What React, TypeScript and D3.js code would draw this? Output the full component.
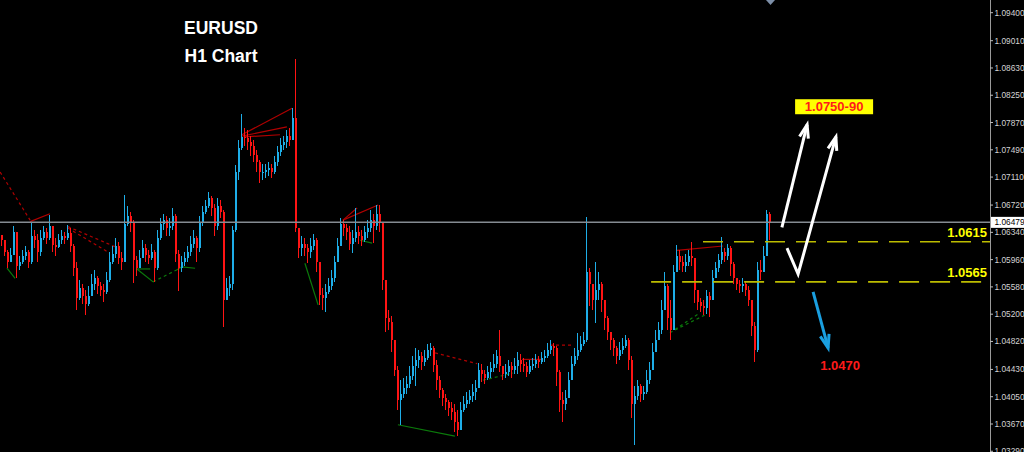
import React from "react";
import * as d3 from "d3";

// ---------- data ----------
const symbolTitle = "EURUSD";
const timeframeTitle = "H1 Chart";
const firstOpen = 1.063;
// hourly bars: [high, low, close]; open = previous close
const bars: [number, number, number][] = [
  [1.0630, 1.0615, 1.0623], [1.0623, 1.0601, 1.0607], [1.0610, 1.0584, 1.0593], [1.0612, 1.0593, 1.0603],
  [1.0643, 1.0610, 1.0635], [1.0598, 1.0570, 1.0587], [1.0601, 1.0582, 1.0593], [1.0610, 1.0590, 1.0601],
  [1.0615, 1.0596, 1.0607], [1.0610, 1.0584, 1.0593], [1.0649, 1.0590, 1.0629], [1.0637, 1.0612, 1.0623],
  [1.0632, 1.0593, 1.0607], [1.0637, 1.0601, 1.0626], [1.0643, 1.0623, 1.0635], [1.0640, 1.0618, 1.0626],
  [1.0658, 1.0623, 1.0643], [1.0643, 1.0607, 1.0616], [1.0626, 1.0601, 1.0614], [1.0632, 1.0612, 1.0623],
  [1.0637, 1.0618, 1.0629], [1.0635, 1.0618, 1.0626], [1.0644, 1.0623, 1.0633], [1.0640, 1.0607, 1.0615],
  [1.0618, 1.0573, 1.0584], [1.0593, 1.0526, 1.0543], [1.0568, 1.0540, 1.0557], [1.0562, 1.0534, 1.0545],
  [1.0554, 1.0519, 1.0534], [1.0559, 1.0531, 1.0545], [1.0576, 1.0545, 1.0562], [1.0582, 1.0554, 1.0570],
  [1.0573, 1.0548, 1.0559], [1.0565, 1.0545, 1.0554], [1.0562, 1.0537, 1.0551], [1.0579, 1.0548, 1.0568],
  [1.0607, 1.0565, 1.0593], [1.0615, 1.0590, 1.0604], [1.0626, 1.0598, 1.0615], [1.0621, 1.0590, 1.0598],
  [1.0607, 1.0582, 1.0593], [1.0686, 1.0593, 1.0646], [1.0671, 1.0643, 1.0657], [1.0662, 1.0635, 1.0649],
  [1.0651, 1.0564, 1.0596], [1.0601, 1.0573, 1.0584], [1.0610, 1.0584, 1.0598], [1.0623, 1.0598, 1.0612],
  [1.0618, 1.0593, 1.0603], [1.0610, 1.0590, 1.0598], [1.0618, 1.0596, 1.0607], [1.0610, 1.0565, 1.0584],
  [1.0637, 1.0582, 1.0626], [1.0654, 1.0623, 1.0646], [1.0660, 1.0637, 1.0651], [1.0657, 1.0629, 1.0640],
  [1.0654, 1.0629, 1.0643], [1.0668, 1.0637, 1.0657], [1.0660, 1.0593, 1.0604], [1.0610, 1.0552, 1.0584],
  [1.0601, 1.0579, 1.0593], [1.0607, 1.0587, 1.0598], [1.0615, 1.0593, 1.0607], [1.0629, 1.0601, 1.0618],
  [1.0637, 1.0612, 1.0626], [1.0629, 1.0593, 1.0612], [1.0657, 1.0607, 1.0649], [1.0671, 1.0643, 1.0662],
  [1.0679, 1.0660, 1.0671], [1.0690, 1.0668, 1.0682], [1.0685, 1.0657, 1.0668], [1.0674, 1.0629, 1.0643],
  [1.0682, 1.0637, 1.0671], [1.0679, 1.0654, 1.0662], [1.0665, 1.0502, 1.0540], [1.0570, 1.0540, 1.0557],
  [1.0573, 1.0545, 1.0562], [1.0643, 1.0554, 1.0637], [1.0728, 1.0635, 1.0718], [1.0763, 1.0707, 1.0752],
  [1.0799, 1.0749, 1.0767], [1.0779, 1.0754, 1.0765], [1.0777, 1.0749, 1.0760], [1.0768, 1.0740, 1.0754],
  [1.0763, 1.0732, 1.0742], [1.0749, 1.0718, 1.0732], [1.0735, 1.0703, 1.0718], [1.0729, 1.0707, 1.0718],
  [1.0729, 1.0710, 1.0721], [1.0732, 1.0712, 1.0724], [1.0729, 1.0710, 1.0718], [1.0740, 1.0715, 1.0732],
  [1.0754, 1.0726, 1.0746], [1.0765, 1.0740, 1.0756], [1.0768, 1.0749, 1.0760], [1.0777, 1.0752, 1.0768],
  [1.0779, 1.0754, 1.0763], [1.0807, 1.0763, 1.0793], [1.0876, 1.0635, 1.0640], [1.0637, 1.0598, 1.0612],
  [1.0629, 1.0601, 1.0618], [1.0626, 1.0601, 1.0612], [1.0618, 1.0591, 1.0607], [1.0626, 1.0598, 1.0615],
  [1.0632, 1.0610, 1.0623], [1.0626, 1.0579, 1.0593], [1.0593, 1.0533, 1.0547], [1.0557, 1.0526, 1.0543],
  [1.0562, 1.0523, 1.0551], [1.0570, 1.0548, 1.0559], [1.0582, 1.0554, 1.0570], [1.0601, 1.0565, 1.0593],
  [1.0626, 1.0593, 1.0615], [1.0654, 1.0623, 1.0646], [1.0651, 1.0629, 1.0640], [1.0646, 1.0623, 1.0635],
  [1.0643, 1.0610, 1.0618], [1.0637, 1.0605, 1.0626], [1.0668, 1.0621, 1.0635], [1.0643, 1.0618, 1.0629],
  [1.0637, 1.0615, 1.0623], [1.0643, 1.0621, 1.0635], [1.0651, 1.0626, 1.0640], [1.0665, 1.0635, 1.0651],
  [1.0660, 1.0619, 1.0643], [1.0672, 1.0637, 1.0660], [1.0672, 1.0635, 1.0649], [1.0646, 1.0554, 1.0568],
  [1.0565, 1.0495, 1.0515], [1.0526, 1.0498, 1.0509], [1.0518, 1.0467, 1.0484], [1.0484, 1.0434, 1.0442],
  [1.0448, 1.0387, 1.0401], [1.0428, 1.0366, 1.0409], [1.0431, 1.0403, 1.0417], [1.0434, 1.0409, 1.0423],
  [1.0448, 1.0417, 1.0434], [1.0462, 1.0428, 1.0448], [1.0473, 1.0420, 1.0456], [1.0470, 1.0445, 1.0462],
  [1.0467, 1.0442, 1.0453], [1.0470, 1.0448, 1.0459], [1.0479, 1.0456, 1.0470], [1.0480, 1.0462, 1.0473],
  [1.0476, 1.0440, 1.0449], [1.0456, 1.0414, 1.0428], [1.0434, 1.0403, 1.0414], [1.0417, 1.0392, 1.0403],
  [1.0409, 1.0387, 1.0398], [1.0401, 1.0378, 1.0389], [1.0398, 1.0373, 1.0384], [1.0395, 1.0356, 1.0370],
  [1.0387, 1.0350, 1.0359], [1.0398, 1.0373, 1.0387], [1.0406, 1.0384, 1.0395], [1.0412, 1.0389, 1.0401],
  [1.0414, 1.0395, 1.0406], [1.0423, 1.0398, 1.0412], [1.0428, 1.0401, 1.0417], [1.0452, 1.0420, 1.0442],
  [1.0451, 1.0426, 1.0437], [1.0442, 1.0423, 1.0431], [1.0448, 1.0428, 1.0440], [1.0453, 1.0431, 1.0445],
  [1.0465, 1.0440, 1.0451], [1.0470, 1.0445, 1.0462], [1.0498, 1.0440, 1.0448], [1.0448, 1.0428, 1.0437],
  [1.0451, 1.0431, 1.0440], [1.0456, 1.0434, 1.0448], [1.0453, 1.0431, 1.0442], [1.0459, 1.0437, 1.0448],
  [1.0467, 1.0437, 1.0456], [1.0465, 1.0440, 1.0451], [1.0459, 1.0440, 1.0448], [1.0453, 1.0433, 1.0440],
  [1.0456, 1.0437, 1.0448], [1.0459, 1.0442, 1.0451], [1.0465, 1.0445, 1.0456], [1.0462, 1.0445, 1.0453],
  [1.0467, 1.0451, 1.0459], [1.0470, 1.0453, 1.0462], [1.0480, 1.0459, 1.0470], [1.0484, 1.0465, 1.0476],
  [1.0480, 1.0462, 1.0473], [1.0476, 1.0420, 1.0440], [1.0442, 1.0384, 1.0401], [1.0412, 1.0370, 1.0395],
  [1.0414, 1.0387, 1.0403], [1.0440, 1.0412, 1.0428], [1.0462, 1.0434, 1.0451], [1.0473, 1.0448, 1.0462],
  [1.0494, 1.0456, 1.0470], [1.0490, 1.0467, 1.0479], [1.0495, 1.0476, 1.0484], [1.0655, 1.0481, 1.0579],
  [1.0584, 1.0531, 1.0562], [1.0562, 1.0526, 1.0540], [1.0593, 1.0508, 1.0554], [1.0579, 1.0540, 1.0562],
  [1.0565, 1.0523, 1.0540], [1.0531, 1.0498, 1.0515], [1.0518, 1.0484, 1.0495], [1.0492, 1.0470, 1.0484],
  [1.0487, 1.0462, 1.0473], [1.0476, 1.0451, 1.0462], [1.0481, 1.0456, 1.0470], [1.0487, 1.0465, 1.0476],
  [1.0491, 1.0473, 1.0484], [1.0487, 1.0442, 1.0456], [1.0462, 1.0376, 1.0395], [1.0420, 1.0338, 1.0406],
  [1.0428, 1.0401, 1.0420], [1.0423, 1.0398, 1.0409], [1.0420, 1.0401, 1.0412], [1.0442, 1.0409, 1.0428],
  [1.0453, 1.0423, 1.0442], [1.0480, 1.0442, 1.0467], [1.0498, 1.0467, 1.0484], [1.0509, 1.0484, 1.0498],
  [1.0540, 1.0492, 1.0526], [1.0579, 1.0540, 1.0559], [1.0562, 1.0498, 1.0515], [1.0540, 1.0484, 1.0498],
  [1.0589, 1.0523, 1.0579], [1.0616, 1.0584, 1.0601], [1.0610, 1.0582, 1.0593], [1.0601, 1.0579, 1.0587],
  [1.0604, 1.0579, 1.0593], [1.0610, 1.0587, 1.0601], [1.0621, 1.0587, 1.0598], [1.0593, 1.0536, 1.0554],
  [1.0551, 1.0526, 1.0537], [1.0543, 1.0523, 1.0531], [1.0540, 1.0519, 1.0529], [1.0554, 1.0520, 1.0545],
  [1.0551, 1.0516, 1.0540], [1.0582, 1.0540, 1.0570], [1.0593, 1.0570, 1.0584], [1.0604, 1.0579, 1.0596],
  [1.0627, 1.0590, 1.0607], [1.0612, 1.0593, 1.0601], [1.0618, 1.0596, 1.0612], [1.0615, 1.0573, 1.0590],
  [1.0593, 1.0562, 1.0570], [1.0570, 1.0554, 1.0562], [1.0568, 1.0550, 1.0559], [1.0570, 1.0551, 1.0562],
  [1.0565, 1.0545, 1.0554], [1.0559, 1.0531, 1.0540], [1.0540, 1.0490, 1.0504], [1.0509, 1.0453, 1.0470],
  [1.0593, 1.0467, 1.0582], [1.0596, 1.0568, 1.0579], [1.0615, 1.0587, 1.0601], [1.0665, 1.0623, 1.0660],
  [1.0662, 1.0623, 1.0648],
];
const priceTicks = [1.094, 1.0901, 1.0863, 1.0825, 1.0787, 1.0749, 1.0711, 1.0672, 1.0634, 1.0596,
  1.0558, 1.052, 1.0482, 1.0443, 1.0405, 1.0367, 1.0329];
const currentPrice = 1.06479;
const levelPrices = [1.0621, 1.0565];
const levelLabels = ["1.0615", "1.0565"];
const levelStartIdx = [234, 216.7];
const targetUpLabel = "1.0750-90";
const targetUpAt: [number, number] = [277.7, 1.0809];
const targetDownLabel = "1.0470";
const targetDownAt: [number, number] = [279.7, 1.0442];
// annotation arrows: [bar index, price]
const whiteArrow1: [number, number][] = [[260.3, 1.0641], [268.7, 1.0784]];
const whiteArrow2: [number, number][] = [[262.0, 1.0612], [265.7, 1.0576], [278.3, 1.0767]];
const blueArrow: [number, number][] = [[270.7, 1.0551], [275.7, 1.0473]];
// zigzag indicator segments: [idx0, price0, idx1, price1, kind]
type Seg = [number, number, number, number, "red" | "redDash" | "green" | "greenDash"];
const zigzag: Seg[] = [
  [-0.3, 1.0718, 9.7, 1.0651, "redDash"],
  [9.7, 1.0649, 16.3, 1.066, "red"],
  [22.3, 1.0642, 38, 1.0614, "redDash"],
  [22.3, 1.064, 36.3, 1.0605, "redDash"],
  [2, 1.0584, 4.7, 1.057, "green"],
  [45.3, 1.0583, 49.7, 1.0583, "green"],
  [45.3, 1.0583, 50.7, 1.0565, "green"],
  [50.7, 1.0565, 58.7, 1.0582, "greenDash"],
  [58.7, 1.0582, 60.3, 1.0586, "green"],
  [60.3, 1.0586, 64.7, 1.0584, "green"],
  [80.3, 1.077, 97, 1.0807, "red"],
  [80.3, 1.0768, 95.3, 1.0781, "red"],
  [81, 1.0767, 93, 1.077, "red"],
  [101.3, 1.0591, 105.7, 1.0533, "green"],
  [114, 1.0651, 118.7, 1.0668, "red"],
  [114, 1.0651, 125.7, 1.0672, "red"],
  [119.7, 1.0623, 123.7, 1.0619, "green"],
  [132.3, 1.0366, 151.3, 1.035, "green"],
  [144.7, 1.0466, 158.7, 1.0451, "redDash"],
  [160.7, 1.0428, 170.7, 1.0438, "greenDash"],
  [173.7, 1.0457, 180.7, 1.0457, "red"],
  [183, 1.0477, 190.7, 1.0477, "redDash"],
  [225.3, 1.0609, 240.7, 1.0615, "red"],
  [223, 1.0494, 233, 1.0522, "greenDash"],
  [224.7, 1.0498, 234.7, 1.0519, "greenDash"],
];

const W = 1024;
const H = 452;
const AXIS_X = 990;
const BULL = "#1eaee8";
const BEAR = "#ff1414";

const segStyle: Record<string, { stroke: string; dash?: string }> = {
  red: { stroke: "#b00000" },
  redDash: { stroke: "#b00000", dash: "3 3" },
  green: { stroke: "#0b7a0b" },
  greenDash: { stroke: "#0b7a0b", dash: "3 3" },
};

function arrowHead(tip: number[], from: number[], len = 14, ang = 0.33) {
  const a = Math.atan2(tip[1] - from[1], tip[0] - from[0]);
  const p1 = [tip[0] - len * Math.cos(a - ang), tip[1] - len * Math.sin(a - ang)];
  const p2 = [tip[0] - len * Math.cos(a + ang), tip[1] - len * Math.sin(a + ang)];
  return `M${p1[0]},${p1[1]}L${tip[0]},${tip[1]}L${p2[0]},${p2[1]}`;
}

export default function App() {
  const x = d3.scaleLinear().domain([0, bars.length - 1]).range([1, 769]);
  const y = d3.scaleLinear().domain([1.0367, 1.094]).range([424.0, 12.7]);
  const fmt = d3.format(".5f");

  const candles = bars.map(([h, l, c], i) => {
    const o = i === 0 ? firstOpen : bars[i - 1][2];
    const hi = Math.max(h, o, c);
    const lo = Math.min(l, o, c);
    const bull = c >= o;
    const cx = Math.round(x(i));
    const top = y(Math.max(o, c));
    const bot = y(Math.min(o, c));
    const col = bull ? BULL : BEAR;
    return (
      <g key={i}>
        <rect x={cx} y={y(hi)} width={1} height={Math.max(1, y(lo) - y(hi))} fill={col} />
        <rect x={cx - 0.5} y={top} width={2} height={Math.max(1, bot - top)} fill={col} />
      </g>
    );
  });

  const pt = (p: [number, number]) => [x(p[0]), y(p[1])];
  const line = d3.line<number[]>().x((d) => d[0]).y((d) => d[1]);

  const arrowPaths = [
    { pts: whiteArrow1.map(pt), color: "#ffffff" },
    { pts: whiteArrow2.map(pt), color: "#ffffff" },
    { pts: blueArrow.map(pt), color: "#1a9fe0" },
  ];

  const curY = y(currentPrice);
  const up = pt(targetUpAt);
  const down = pt(targetDownAt);

  return (
    <svg
      width={W}
      height={H}
      style={{ position: "fixed", left: 0, top: 0, display: "block", background: "#000" }}
      fontFamily="'Liberation Sans', Arial, sans-serif"
    >
      <rect x={0} y={0} width={W} height={H} fill="#000" />

      {/* zigzag indicator */}
      {zigzag.map((s, i) => (
        <line
          key={"z" + i}
          x1={x(s[0])}
          y1={y(s[1])}
          x2={x(s[2])}
          y2={y(s[3])}
          stroke={segStyle[s[4]].stroke}
          strokeDasharray={segStyle[s[4]].dash}
          strokeWidth={1.2}
        />
      ))}

      <g shapeRendering="crispEdges">{candles}</g>

      {/* current price line */}
      <line x1={0} x2={AXIS_X} y1={curY} y2={curY} stroke="#858b92" strokeWidth={1.5} />

      {/* key levels */}
      {levelPrices.map((p, i) => (
        <g key={"lv" + i}>
          <line
            x1={x(levelStartIdx[i])}
            x2={AXIS_X}
            y1={y(p)}
            y2={y(p)}
            stroke="#bcbc00"
            strokeWidth={1.6}
            strokeDasharray="20 11"
          />
          <text
            x={AXIS_X - 3}
            y={y(p) - 5}
            textAnchor="end"
            fontSize={13}
            fontWeight="bold"
            fill="#ffff00"
          >
            {levelLabels[i]}
          </text>
        </g>
      ))}

      {/* arrows */}
      {arrowPaths.map((a, i) => (
        <g key={"ar" + i} fill="none" stroke={a.color} strokeWidth={3} strokeLinejoin="miter">
          <path d={line(a.pts) || ""} />
          <path d={arrowHead(a.pts[a.pts.length - 1], a.pts[a.pts.length - 2])} />
        </g>
      ))}

      {/* targets */}
      <rect x={up[0] - 39} y={up[1] - 7.5} width={78} height={15} fill="#ffff00" />
      <text x={up[0]} y={up[1] + 4.5} textAnchor="middle" fontSize={13} fontWeight="bold" fill="#ff1a1a">
        {targetUpLabel}
      </text>
      <text x={down[0]} y={down[1]} textAnchor="middle" fontSize={13} fontWeight="bold" fill="#ff1a1a">
        {targetDownLabel}
      </text>

      {/* title */}
      <text x={221} y={34} textAnchor="middle" fontSize={17.5} fontWeight="bold" fill="#ffffff">
        {symbolTitle}
      </text>
      <text x={221} y={62} textAnchor="middle" fontSize={17.5} fontWeight="bold" fill="#ffffff">
        {timeframeTitle}
      </text>

      {/* shift marker */}
      <path d="M766,0L775,0L770.5,5Z" fill="#7d8fa8" />

      {/* price axis */}
      <rect x={AXIS_X + 0.5} y={0} width={W - AXIS_X} height={H} fill="#000" />
      <line x1={AXIS_X + 0.5} x2={AXIS_X + 0.5} y1={0} y2={H} stroke="#9a9a9a" strokeWidth={1} />
      {priceTicks.map((t) => (
        <g key={"t" + t}>
          <line x1={AXIS_X} x2={AXIS_X + 3} y1={y(t)} y2={y(t)} stroke="#bbbbbb" />
          <text x={AXIS_X + 4.5} y={y(t) + 3} fontSize={8.3} fill="#d4d4d4">
            {fmt(t)}
          </text>
        </g>
      ))}
      <rect x={AXIS_X + 1} y={curY - 5.5} width={W - AXIS_X - 1} height={11} fill="#ffffff" />
      <text x={AXIS_X + 4.5} y={curY + 3} fontSize={8.3} fill="#000">
        {fmt(currentPrice)}
      </text>
    </svg>
  );
}
